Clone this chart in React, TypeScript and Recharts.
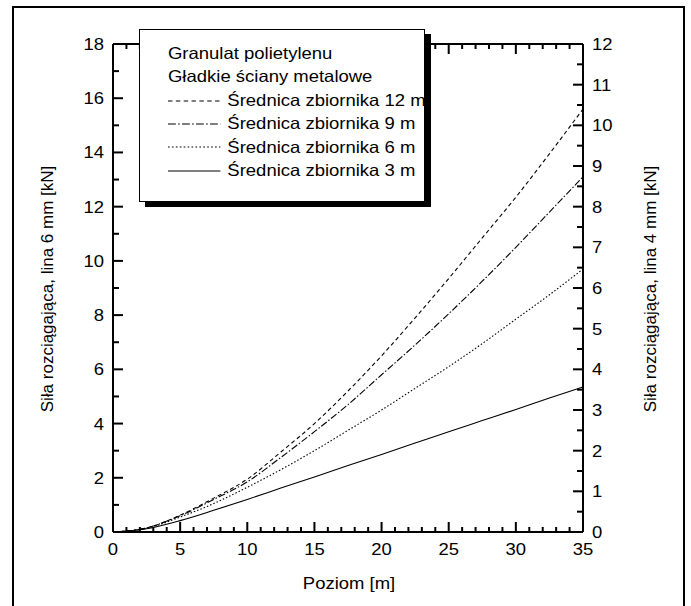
import { LineChart, Line, XAxis, YAxis } from "recharts";

// level along the tank [m]
const level = [0, 2.5, 5, 7.5, 10, 12.5, 15, 17.5, 20, 22.5, 25, 27.5, 30, 32.5, 35];
// pulling force, 6 mm rope [kN]
const d12 = [0, 0.15, 0.62, 1.25, 1.95, 2.95, 4.0, 5.2, 6.5, 7.9, 9.35, 10.85, 12.35, 13.95, 15.6];
const d9 = [0, 0.15, 0.6, 1.2, 1.85, 2.75, 3.7, 4.7, 5.8, 6.9, 8.05, 9.25, 10.5, 11.8, 13.1];
const d6 = [0, 0.14, 0.55, 1.05, 1.65, 2.3, 3.0, 3.75, 4.5, 5.3, 6.1, 6.95, 7.85, 8.75, 9.7];
const d3 = [0, 0.12, 0.42, 0.8, 1.2, 1.62, 2.03, 2.45, 2.86, 3.28, 3.7, 4.11, 4.52, 4.94, 5.35];

const seriesNames = [
  "Średnica zbiornika 12 m",
  "Średnica zbiornika 9 m",
  "Średnica zbiornika 6 m",
  "Średnica zbiornika 3 m",
];
const seriesKeys = ["d12", "d9", "d6", "d3"];
const seriesDash = ["4 3", "7 2 1.5 2", "1.5 2", ""];
const legendTitle = ["Granulat polietylenu", "Gładkie ściany metalowe"];

const xTicks = [0, 1, 2, 3, 4, 5, 6, 7, 8, 9, 10, 11, 12, 13, 14, 15, 16, 17, 18, 19, 20, 21, 22, 23, 24, 25, 26, 27, 28, 29, 30, 31, 32, 33, 34, 35];
const leftTicks = [0, 1, 2, 3, 4, 5, 6, 7, 8, 9, 10, 11, 12, 13, 14, 15, 16, 17, 18];
const rightTicks = [0, 0.5, 1, 1.5, 2, 2.5, 3, 3.5, 4, 4.5, 5, 5.5, 6, 6.5, 7, 7.5, 8, 8.5, 9, 9.5, 10, 10.5, 11, 11.5, 12];

const data = level.map((x, i) => ({ level: x, d12: d12[i], d9: d9[i], d6: d6[i], d3: d3[i] }));

const FONT = "'Liberation Sans', Arial, Helvetica, sans-serif";
const INK = "#000";
const SX = 1.12; // the source is a bit stretched sideways

// plot box, set by the axis sizes below
const W = 691;
const H = 606;
const LEFT_W = 113;
const RIGHT_W = 108;
const TOP_H = 44;
const BOTTOM_H = 74;
const X_MAX = 35;
const L_MAX = 18;
const R_MAX = 12;
const plotL = LEFT_W;
const plotR = W - RIGHT_W;
const plotT = TOP_H;
const plotB = H - BOTTOM_H;
const px = (v: number) => plotL + (v / X_MAX) * (plotR - plotL);
const pyL = (v: number) => plotB - (v / L_MAX) * (plotB - plotT);
const pyR = (v: number) => plotB - (v / R_MAX) * (plotB - plotT);

const tickText = (x: number, y: number, anchor: string, v: any) => (
  <text transform={`translate(${x} ${y}) scale(${SX} 1)`} textAnchor={anchor} fontSize={16.5} fontFamily={FONT} fill={INK}>
    {v}
  </text>
);

const bottomLabel = ({ x, y, payload }: any) =>
  payload.value % 5 === 0 ? tickText(x, y + 23, "middle", payload.value) : <g />;
const leftLabel = ({ x, y, payload }: any) =>
  payload.value % 2 === 0 ? tickText(x - 9, y + 6, "end", payload.value) : <g />;
const rightLabel = ({ x, y, payload }: any) =>
  payload.value % 1 === 0 ? tickText(x + 9, y + 6, "start", payload.value) : <g />;

// inward tick marks on all four sides of the frame, drawn as thin filled bars
function TickMarks() {
  const T = 2;
  return (
    <svg width={W} height={H} style={{ position: "absolute", left: 0, top: 0, pointerEvents: "none", zIndex: 1 }}>
      {xTicks.map((v) => {
        const len = v % 5 === 0 ? 10 : 5;
        return (
          <g key={`x${v}`} fill={INK}>
            <rect x={px(v) - T / 2} y={plotB - len} width={T} height={len} />
            <rect x={px(v) - T / 2} y={plotT} width={T} height={len} />
          </g>
        );
      })}
      {leftTicks.map((v) => (
        <rect key={`l${v}`} x={plotL} y={pyL(v) - T / 2} width={v % 2 === 0 ? 10 : 6} height={T} fill={INK} />
      ))}
      {rightTicks.map((v) => {
        const len = v % 1 === 0 ? 10 : 6;
        return <rect key={`r${v}`} x={plotR - len} y={pyR(v) - T / 2} width={len} height={T} fill={INK} />;
      })}
    </svg>
  );
}

function ChartLegend() {
  return (
    <div
      style={{
        position: "absolute",
        left: 139,
        top: 29,
        width: 286,
        height: 173,
        boxSizing: "border-box",
        background: "#fff",
        border: `1.5px solid ${INK}`,
        boxShadow: `6px 5px 0 ${INK}`,
        fontFamily: FONT,
        fontSize: 16.5,
        color: INK,
        paddingTop: 12,
        lineHeight: "23.4px",
        zIndex: 2,
      }}
    >
      <div style={{ transform: `scaleX(${SX})`, transformOrigin: "0 0", whiteSpace: "nowrap" }}>
        {legendTitle.map((t) => (
          <div key={t} style={{ paddingLeft: 25 }}>
            {t}
          </div>
        ))}
        {seriesNames.map((name, i) => (
          <div key={name} style={{ display: "flex", alignItems: "center", paddingLeft: 25 }}>
            <svg width={47} height={10} style={{ marginRight: 6 }}>
              <line x1={0} x2={47} y1={5} y2={5} stroke={INK} strokeWidth={1.1} strokeDasharray={seriesDash[i]} />
            </svg>
            <span>{name}</span>
          </div>
        ))}
      </div>
    </div>
  );
}

const axisLine = { stroke: INK, strokeWidth: 2 };

export default function App() {
  return (
    <div style={{ position: "absolute", left: 0, top: 0, width: W, height: H, background: "#fff" }}>
      <LineChart width={W} height={H} data={data} margin={{ top: 0, right: 0, bottom: 0, left: 0 }}>
        <XAxis
          xAxisId="b"
          dataKey="level"
          type="number"
          domain={[0, X_MAX]}
          ticks={xTicks}
          interval={0}
          height={BOTTOM_H}
          tickSize={0}
          tickMargin={0}
          tick={bottomLabel}
          tickLine={false}
          axisLine={axisLine}
          label={{ content: () => tickText(349, 589, "middle", "Poziom [m]") }}
        />
        <XAxis
          xAxisId="t"
          dataKey="level"
          orientation="top"
          type="number"
          domain={[0, X_MAX]}
          height={TOP_H}
          tick={false}
          tickLine={false}
          axisLine={axisLine}
        />
        <YAxis
          yAxisId="l"
          type="number"
          domain={[0, L_MAX]}
          ticks={leftTicks}
          interval={0}
          width={LEFT_W}
          tickSize={0}
          tickMargin={0}
          tick={leftLabel}
          tickLine={false}
          axisLine={axisLine}
          label={{
            content: () => (
              <text x={53} y={289} transform="rotate(-90 53 289)" textAnchor="middle" fontSize={17} fontFamily={FONT} fill={INK}>
                Siła rozciągająca, lina 6 mm [kN]
              </text>
            ),
          }}
        />
        <YAxis
          yAxisId="r"
          orientation="right"
          type="number"
          domain={[0, R_MAX]}
          ticks={rightTicks}
          interval={0}
          width={RIGHT_W}
          tickSize={0}
          tickMargin={0}
          tick={rightLabel}
          tickLine={false}
          axisLine={axisLine}
          label={{
            content: () => (
              <text x={656} y={289} transform="rotate(-90 656 289)" textAnchor="middle" fontSize={17} fontFamily={FONT} fill={INK}>
                Siła rozciągająca, lina 4 mm [kN]
              </text>
            ),
          }}
        />
        {seriesKeys.map((k, i) => (
          <Line
            key={k}
            xAxisId="b"
            yAxisId="l"
            dataKey={k}
            name={seriesNames[i]}
            type="monotone"
            stroke={INK}
            strokeWidth={1.1}
            strokeDasharray={seriesDash[i] || undefined}
            dot={false}
            isAnimationActive={false}
          />
        ))}
        {/* invisible twin so the top / right axes have a series to follow */}
        <Line xAxisId="t" yAxisId="r" dataKey="d3" stroke="none" dot={false} activeDot={false} isAnimationActive={false} />
      </LineChart>
      <TickMarks />
      <div
        style={{
          position: "absolute",
          left: 12,
          top: 6,
          width: 673,
          height: 604,
          boxSizing: "border-box",
          border: `2px solid ${INK}`,
          pointerEvents: "none",
        }}
      />
      <ChartLegend />
    </div>
  );
}
